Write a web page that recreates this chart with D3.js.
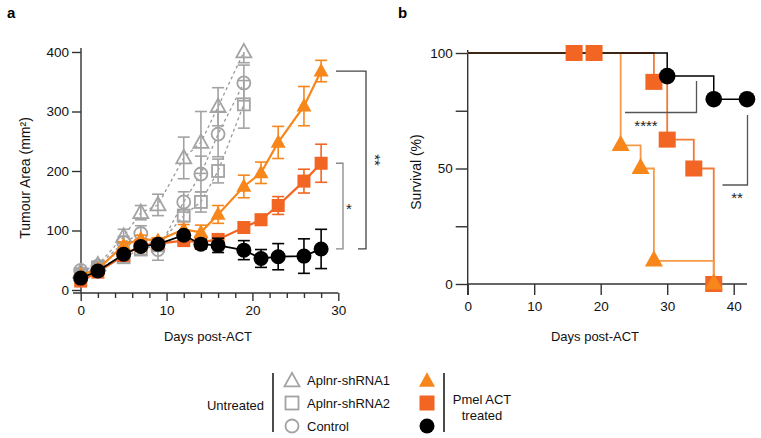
<!DOCTYPE html>
<html><head><meta charset="utf-8">
<script src="https://cdn.jsdelivr.net/npm/d3@7"></script>
<style>body{margin:0;background:#fff;} text{font-family:"Liberation Sans",Arial,sans-serif;}</style>
</head><body>
<svg id="c" width="761" height="438"></svg>
<script>
// ---------- Panel a data (tumour area, mm^2) ----------
const daysA = [0,2,5,7,9,12,14,16,19,21,23,26,28];
const daysUntreated = [0,2,5,7,9,12,14,16,19];
const untreatedSh1 = [30,42,90,130,143,222,248,308,400];
const untreatedSh1Err = [4,5,12,12,18,35,52,32,18];
const untreatedSh2 = [25,38,55,68,75,125,148,200,312];
const untreatedSh2Err = [4,5,8,8,8,10,17,20,40];
const untreatedCtrl = [33,40,80,95,68,148,195,262,348];
const untreatedCtrlErr = [4,5,10,13,18,17,30,38,30];
const actSh1 = [25,35,75,86,83,102,97,127,174,197,248,309,368];
const actSh1Err = [3,4,6,6,5,8,12,15,19,18,27,33,18];
const actSh2 = [15,30,58,75,78,83,80,85,105,118,142,183,213];
const actSh2Err = [3,4,5,5,5,6,6,9,7,9,15,20,32];
const actCtrl = [20,32,60,73,77,92,77,75,67,53,56,57,69];
const actCtrlErr = [3,4,5,5,5,6,8,12,16,15,22,29,33];
const yTicksA = [0,100,200,300,400];
const xTicksA = [0,2,4,6,8,10,12,14,16,18,20,22,24,26,28,30];

// ---------- Panel b data (survival, %) ----------
const kmCtrlT = [0,30,37,42], kmCtrlS = [100,90,80,80];
const kmSh2T = [0,28,30,34,37], kmSh2S = [100,87.5,62.5,50,0];
const kmSh1T = [0,23,26,28,37], kmSh1S = [100,60,50,10,0];
const mkSh2T = [16,19,28,30,34,37], mkSh2S = [100,100,87.5,62.5,50,0];
const mkSh1T = [23,26,28,37], mkSh1S = [60,50,10,0];
const mkCtrlT = [30,37,42], mkCtrlS = [90,80,80];
const yTicksB = [0,25,50,75,100];
const xTicksB = [0,10,20,30,40];

const legendUntreated = ["Aplnr-shRNA1","Aplnr-shRNA2","Control"];

const GREY = "#a3a3a3", OR1 = "#f7861b", OR2 = "#f26522", BLK = "#000", AX = "#333";
const OR1L = "#f79a48", OR2L = "#f37a35";

const svg = d3.select("#c");
const font = "Liberation Sans, Arial, sans-serif";

const tri = d3.symbol().type(d3.symbolTriangle);
function triPath(w){ // equilateral-ish triangle of width w
  const h = w*0.9;
  return `M0,${-h*0.6}L${w/2},${h*0.4}L${-w/2},${h*0.4}Z`;
}

// ============ Panel a ============
const xA = d3.scaleLinear().domain([0,30]).range([80.7,338.3]);
const yA = d3.scaleLinear().domain([0,400]).range([290,52]);
const gA = svg.append("g");

// axes
const axA_x = gA.append("g").attr("transform","translate(0,293)")
  .call(d3.axisBottom(xA).tickValues(xTicksA).tickSize(5).tickSizeOuter(0)
    .tickFormat(d=> d%10===0? d : ""));
axA_x.select(".domain").attr("d",`M73,0H${xA(30)}`);
axA_x.selectAll(".tick line").attr("y2", d=> d%10===0?8:5);
const axA_y = gA.append("g").attr("transform","translate(81,0)")
  .call(d3.axisLeft(yA).tickValues(yTicksA).tickSize(9).tickSizeOuter(0));
axA_y.select(".domain").attr("d",`M0,${yA(400)-4}V293`);
[axA_x, axA_y].forEach(a=>{
  a.selectAll("path,line").attr("stroke",AX).attr("stroke-width",1.4);
  a.selectAll("text").attr("font-family",font).attr("font-size",13.5).attr("fill","#111");
});
axA_x.selectAll("text").attr("dy","1.05em");
axA_y.selectAll("text").attr("x",-12);

gA.append("text").attr("transform","translate(30,178) rotate(-90)")
  .attr("text-anchor","middle").attr("font-size",14).attr("fill","#111")
  .text("Tumour Area (mm²)");
gA.append("text").attr("x",208).attr("y",341).attr("text-anchor","middle")
  .attr("font-size",13).attr("fill","#111").text("Days post-ACT");
svg.append("text").attr("x",7).attr("y",18).attr("font-size",15).attr("font-weight","bold").text("a");
svg.append("text").attr("x",398).attr("y",18).attr("font-size",15).attr("font-weight","bold").text("b");

function series(g, days, vals, errs, color, opt){
  const pts = days.map((d,i)=>({x:d,y:vals[i],e:errs[i]}));
  g.append("path").datum(pts)
    .attr("d", d3.line().x(d=>xA(d.x)).y(d=>yA(d.y)))
    .attr("fill","none").attr("stroke", opt.lineColor||color)
    .attr("stroke-width", opt.lw||2).attr("stroke-dasharray", opt.dash||null);
  const eb = g.append("g").attr("stroke",color).attr("stroke-width",opt.ew||1.6);
  pts.forEach(p=>{
    const top = Math.min(400, p.y+p.e);
    eb.append("line").attr("x1",xA(p.x)).attr("x2",xA(p.x)).attr("y1",yA(top)).attr("y2",yA(p.y-p.e));
    if (p.y+p.e<=400) eb.append("line").attr("x1",xA(p.x)-6).attr("x2",xA(p.x)+6).attr("y1",yA(top)).attr("y2",yA(top));
    eb.append("line").attr("x1",xA(p.x)-6).attr("x2",xA(p.x)+6).attr("y1",yA(p.y-p.e)).attr("y2",yA(p.y-p.e));
  });
  const mg = g.append("g");
  pts.forEach(p=>{
    const cx = xA(p.x), cy = yA(p.y);
    let m;
    if (opt.shape==="tri") m = mg.append("path").attr("d",triPath(opt.size||15)).attr("transform",`translate(${cx},${cy})`);
    else if (opt.shape==="sq") { const s=opt.size||13; m = mg.append("rect").attr("x",cx-s/2).attr("y",cy-s/2).attr("width",s).attr("height",s); }
    else m = mg.append("circle").attr("cx",cx).attr("cy",cy).attr("r",opt.size||7);
    if (opt.open) m.attr("fill","none").attr("stroke",color).attr("stroke-width",1.8);
    else m.attr("fill",color);
  });
}
series(gA, daysUntreated, untreatedSh2, untreatedSh2Err, GREY, {shape:"sq",open:true,dash:"3,3",lw:1.3,size:12,lineColor:"#999"});
series(gA, daysUntreated, untreatedCtrl, untreatedCtrlErr, GREY, {shape:"circ",open:true,dash:"3,3",lw:1.3,size:6.5,lineColor:"#999"});
series(gA, daysUntreated, untreatedSh1, untreatedSh1Err, GREY, {shape:"tri",open:true,dash:"3,3",lw:1.3,size:15,lineColor:"#999"});
series(gA, daysA, actSh2, actSh2Err, OR2, {shape:"sq",size:13,lw:2.2});
series(gA, daysA, actSh1, actSh1Err, OR1, {shape:"tri",size:15,lw:2.2});
series(gA, daysA, actCtrl, actCtrlErr, BLK, {shape:"circ",size:7.5,lw:1.8});

// brackets panel a
const br = gA.append("g").attr("fill","none");
br.append("path").attr("d",`M336,${yA(368)}H366V${yA(69)}H358`).attr("stroke","#444").attr("stroke-width",1.3);
br.append("path").attr("d",`M336,${yA(213)}H343V${yA(69)}H336`).attr("stroke","#888").attr("stroke-width",1.3);
gA.append("text").attr("transform",`translate(370,${(yA(368)+yA(69))/2}) rotate(90)`).attr("text-anchor","middle")
  .attr("font-size",15).attr("fill","#222").text("**");
gA.append("text").attr("x",349).attr("y",(yA(213)+yA(69))/2+8).attr("text-anchor","middle")
  .attr("font-size",15).attr("fill","#222").text("*");

// ============ Panel b ============
const xB = d3.scaleLinear().domain([0,40]).range([467.7,733.7]);
const yB = d3.scaleLinear().domain([0,100]).range([284,53]);
const gB = svg.append("g");
const axB_x = gB.append("g").attr("transform","translate(0,284)")
  .call(d3.axisBottom(xB).tickValues(xTicksB).tickSize(11).tickSizeOuter(0));
axB_x.select(".domain").attr("d",`M${xB(0)},0H747`);
const axB_y = gB.append("g").attr("transform",`translate(${xB(0)},0)`)
  .call(d3.axisLeft(yB).tickValues(yTicksB).tickSize(12).tickSizeOuter(0).tickFormat(d=> d%50===0? d:""));
axB_y.select(".domain").attr("d",`M0,${yB(100)-3}V295`);
[axB_x, axB_y].forEach(a=>{
  a.selectAll("path,line").attr("stroke",AX).attr("stroke-width",1.4);
  a.selectAll("text").attr("font-family",font).attr("font-size",13.5).attr("fill","#111");
});
axB_x.selectAll("text").attr("y",17).attr("dy","0.71em");
axB_y.selectAll("text").attr("x",-15);
gB.append("text").attr("transform","translate(421,172) rotate(-90)")
  .attr("text-anchor","middle").attr("font-size",14).attr("fill","#111").text("Survival (%)");
gB.append("text").attr("x",595).attr("y",341).attr("text-anchor","middle")
  .attr("font-size",13).attr("fill","#111").text("Days post-ACT");

const step = d3.line().curve(d3.curveStepAfter).x(d=>xB(d[0])).y(d=>yB(d[1]));
gB.append("path").attr("d",step(d3.zip(kmSh2T,kmSh2S))).attr("fill","none").attr("stroke",OR2L).attr("stroke-width",1.8);
gB.append("path").attr("d",step(d3.zip(kmSh1T,kmSh1S))).attr("fill","none").attr("stroke",OR1L).attr("stroke-width",1.8);
gB.append("path").attr("d",step(d3.zip(kmCtrlT,kmCtrlS))).attr("fill","none").attr("stroke",BLK).attr("stroke-width",1.5);

mkSh2T.forEach((t,i)=>{
  gB.append("rect").attr("x",xB(t)-8.5).attr("y",yB(mkSh2S[i])-8).attr("width",17).attr("height",16).attr("fill",OR2);
});
mkSh1T.forEach((t,i)=>{
  gB.append("path").attr("d",triPath(18)).attr("transform",`translate(${xB(t)},${yB(mkSh1S[i])-1})`).attr("fill",OR1);
});
mkCtrlT.forEach((t,i)=>{
  gB.append("circle").attr("cx",xB(t)).attr("cy",yB(mkCtrlS[i])).attr("r",8.3).attr("fill",BLK);
});
// brackets panel b
gB.append("path").attr("d",`M625,112.5H696.5V81`).attr("fill","none").attr("stroke","#555").attr("stroke-width",1.3);
gB.append("text").attr("x",646).attr("y",131).attr("text-anchor","middle").attr("font-size",15).attr("fill","#222").text("****");
gB.append("path").attr("d",`M747.5,115V185H722.5`).attr("fill","none").attr("stroke","#555").attr("stroke-width",1.3);
gB.append("text").attr("x",737).attr("y",203).attr("text-anchor","middle").attr("font-size",15).attr("fill","#222").text("**");

// ============ Legend ============
const lg = svg.append("g");
lg.append("text").attr("x",264).attr("y",410).attr("text-anchor","end").attr("font-size",13).attr("fill","#111").text("Untreated");
lg.append("line").attr("x1",273).attr("x2",273).attr("y1",373).attr("y2",432).attr("stroke","#111").attr("stroke-width",1.5);
lg.append("line").attr("x1",444).attr("x2",444).attr("y1",373).attr("y2",432).attr("stroke","#111").attr("stroke-width",1.5);
const legY = [380,403,426];
legendUntreated.forEach((name,i)=>{
  const y = legY[i];
  if (i===0) lg.append("path").attr("d",triPath(15)).attr("transform",`translate(292,${y+1})`).attr("fill","none").attr("stroke",GREY).attr("stroke-width",1.8);
  if (i===1) lg.append("rect").attr("x",285.5).attr("y",y-6.5).attr("width",13).attr("height",13).attr("fill","none").attr("stroke",GREY).attr("stroke-width",1.8);
  if (i===2) lg.append("circle").attr("cx",292).attr("cy",y).attr("r",6.5).attr("fill","none").attr("stroke",GREY).attr("stroke-width",1.8);
  lg.append("text").attr("x",307).attr("y",y+5).attr("font-size",13).attr("fill","#111").text(name);
});
lg.append("path").attr("d",triPath(16)).attr("transform",`translate(427,${legY[0]+1})`).attr("fill",OR1);
lg.append("rect").attr("x",419.5).attr("y",legY[1]-7.5).attr("width",15).attr("height",15).attr("fill",OR2);
lg.append("circle").attr("cx",427).attr("cy",legY[2]).attr("r",7.5).attr("fill",BLK);
lg.append("text").attr("x",482).attr("y",404).attr("text-anchor","middle").attr("font-size",13).attr("fill","#111").text("Pmel ACT");
lg.append("text").attr("x",482).attr("y",420).attr("text-anchor","middle").attr("font-size",13).attr("fill","#111").text("treated");
</script>
</body></html>
